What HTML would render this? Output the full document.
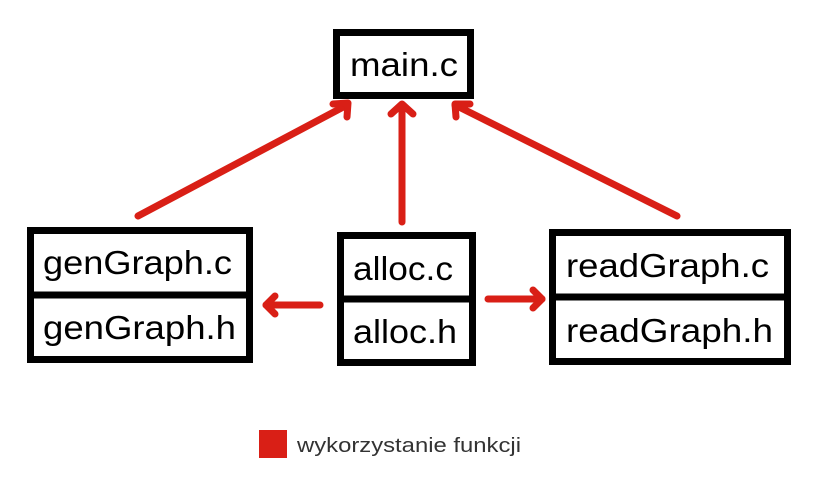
<!DOCTYPE html>
<html><head><style>html,body{margin:0;padding:0;background:#fff}</style></head>
<body>
<svg width="821" height="493" viewBox="0 0 821 493" xmlns="http://www.w3.org/2000/svg" style="display:block">
<g fill="#fff" stroke="#000" stroke-width="7">
<rect x="336.5" y="32.5" width="134" height="63"/>
<rect x="30.5" y="230.5" width="219" height="129"/>
<line x1="27" y1="295" x2="253" y2="295"/>
<rect x="340.5" y="235.5" width="132" height="127"/>
<line x1="337" y1="299" x2="476" y2="299"/>
<rect x="552.5" y="232.5" width="235" height="129"/>
<line x1="549" y1="297" x2="791" y2="297"/>
</g>
<g font-family="'Liberation Sans',sans-serif" font-size="33" fill="#000" lengthAdjust="spacingAndGlyphs">
<text x="350" y="76" textLength="108" lengthAdjust="spacingAndGlyphs">main.c</text>
<text x="43" y="274" textLength="189" lengthAdjust="spacingAndGlyphs">genGraph.c</text>
<text x="43" y="339" textLength="193" lengthAdjust="spacingAndGlyphs">genGraph.h</text>
<text x="353" y="280" textLength="100" lengthAdjust="spacingAndGlyphs">alloc.c</text>
<text x="353" y="343" textLength="104" lengthAdjust="spacingAndGlyphs">alloc.h</text>
<text x="566" y="277" textLength="203" lengthAdjust="spacingAndGlyphs">readGraph.c</text>
<text x="566" y="342" textLength="207" lengthAdjust="spacingAndGlyphs">readGraph.h</text>
</g>
<g stroke="#d91f16" stroke-width="7" stroke-linecap="round" stroke-linejoin="round" fill="none">
<line x1="138" y1="216" x2="347" y2="105"/>
<polyline points="333,104 348,103 347,117"/>
<line x1="402" y1="222" x2="402" y2="105"/>
<polyline points="391,114 402,104 413,114"/>
<line x1="677" y1="216" x2="455" y2="105"/>
<polyline points="470,104 455,104 456,117"/>
<line x1="320" y1="305" x2="266" y2="305"/>
<polyline points="275,296 266,305 275,314"/>
<line x1="488" y1="299" x2="542" y2="299"/>
<polyline points="533,290 542,299 533,308"/>
</g>
<rect x="259" y="430" width="28" height="28" fill="#d91f16"/>
<text x="297" y="452" font-family="'Liberation Sans',sans-serif" font-size="20" fill="#333" textLength="224" lengthAdjust="spacingAndGlyphs">wykorzystanie funkcji</text>
</svg>
</body></html>
